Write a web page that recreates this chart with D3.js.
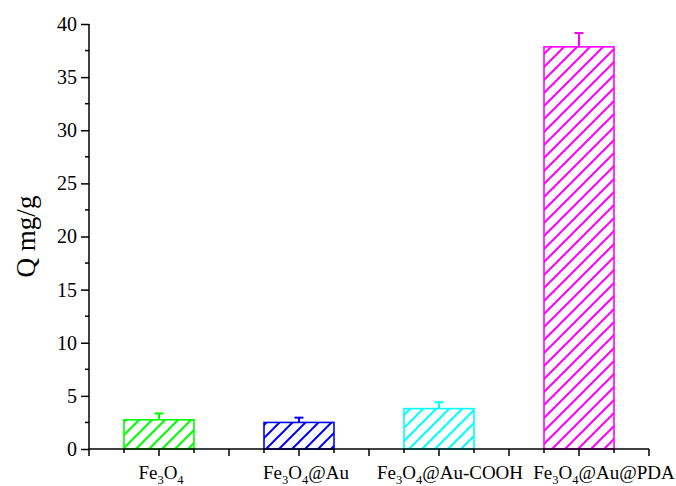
<!DOCTYPE html>
<html>
<head>
<meta charset="utf-8">
<script src="https://cdn.jsdelivr.net/npm/d3@7/dist/d3.min.js"></script>
<style>
  html, body { margin: 0; padding: 0; background: #fff; }
  svg { display: block; font-family: "Liberation Serif", "Times New Roman", serif; }
</style>
</head>
<body>
<svg id="chart" width="676" height="486"></svg>
<script>
// Adsorption capacity per material
const categories = ["Fe3O4", "Fe3O4@Au", "Fe3O4@Au-COOH", "Fe3O4@Au@PDA"];
const values = [2.75, 2.5, 3.8, 37.85];
const errors = [0.6, 0.45, 0.6, 1.3];
const colors = ["#00ff00", "#0000ff", "#00ffff", "#ff00ff"];
// Category labels split into normal / subscript runs
const labelParts = [
  [["Fe", 0], ["3", 1], ["O", 0], ["4", 1]],
  [["Fe", 0], ["3", 1], ["O", 0], ["4", 1], ["@Au", 0]],
  [["Fe", 0], ["3", 1], ["O", 0], ["4", 1], ["@Au-COOH", 0]],
  [["Fe", 0], ["3", 1], ["O", 0], ["4", 1], ["@Au@PDA", 0]]
];
const yTicks = [0, 5, 10, 15, 20, 25, 30, 35, 40];
const yLabel = "Q mg/g";

const svg = d3.select("#chart");
const mLeft = 89, mRight = 649, mTop = 24, mBottom = 449;

const x = d3.scaleBand().domain(categories).range([mLeft, mRight])
  .paddingInner(0.5).paddingOuter(0.25);
const y = d3.scaleLinear().domain([0, 40]).range([mBottom, mTop]);

// Diagonal hatch patterns, one per colour
const defs = svg.append("defs");
const P = 13;
colors.forEach((c, i) => {
  const p = defs.append("pattern")
    .attr("id", "hatch" + i)
    .attr("patternUnits", "userSpaceOnUse")
    .attr("width", P).attr("height", P);
  p.append("rect").attr("width", P).attr("height", P).attr("fill", "#fff");
  p.append("path")
    .attr("d", `M0,${P} L${P},0 M${-P/2},${P/2} L${P/2},${-P/2} M${P/2},${P*1.5} L${P*1.5},${P/2}`)
    .attr("stroke", c).attr("stroke-width", 2);
});

// Bars
const g = svg.append("g");
categories.forEach((cat, i) => {
  const x0 = x(cat), bw = x.bandwidth();
  g.append("rect")
    .attr("x", x0).attr("y", y(values[i]))
    .attr("width", bw).attr("height", y(0) - y(values[i]))
    .attr("fill", `url(#hatch${i})`)
    .attr("stroke", colors[i]).attr("stroke-width", 1.6);
  // upper error bar
  const cx = x0 + bw / 2;
  g.append("line")
    .attr("x1", cx).attr("x2", cx)
    .attr("y1", y(values[i])).attr("y2", y(values[i] + errors[i]))
    .attr("stroke", colors[i]).attr("stroke-width", 2);
  g.append("line")
    .attr("x1", cx - 4.5).attr("x2", cx + 4.5)
    .attr("y1", y(values[i] + errors[i])).attr("y2", y(values[i] + errors[i]))
    .attr("stroke", colors[i]).attr("stroke-width", 2);
});

// Y axis
const yAxis = svg.append("g").attr("transform", `translate(${mLeft},0)`)
  .call(d3.axisLeft(y).tickValues(yTicks).tickSize(8).tickPadding(4).tickFormat(d3.format("d")));
yAxis.select(".domain").attr("stroke-width", 1.5).attr("d", `M0,${mTop}V${mBottom}`);
yAxis.selectAll(".tick line").attr("stroke-width", 1.5);
yAxis.selectAll(".tick text").attr("font-size", 20).attr("fill", "#000")
  .attr("font-family", "Liberation Serif, serif");
const yMinor = d3.range(2.5, 40, 5);
svg.append("g").selectAll("line").data(yMinor).join("line")
  .attr("x1", mLeft - 4).attr("x2", mLeft)
  .attr("y1", d => y(d)).attr("y2", d => y(d))
  .attr("stroke", "#000").attr("stroke-width", 1.5);

// X axis line
svg.append("line")
  .attr("x1", mLeft).attr("x2", mRight).attr("y1", mBottom).attr("y2", mBottom)
  .attr("stroke", "#000").attr("stroke-width", 1.5);
// X ticks: major at category centres and boundaries, minor at bar edges
const step = x.step();
const xt = d3.range(0, 17).map(k => ({ px: mLeft + k * step / 4, major: k % 2 === 0 }));
svg.append("g").selectAll("line").data(xt).join("line")
  .attr("x1", d => d.px).attr("x2", d => d.px)
  .attr("y1", mBottom).attr("y2", d => mBottom + (d.major ? 7 : 4))
  .attr("stroke", "#000").attr("stroke-width", 1.5);

// X labels with subscripts
const labelShift = [2, 7, 11, 25];
categories.forEach((cat, i) => {
  const t = svg.append("text")
    .attr("x", x(cat) + x.bandwidth() / 2 + labelShift[i])
    .attr("y", 479)
    .attr("text-anchor", "middle")
    .attr("font-size", 19).attr("fill", "#000");
  labelParts[i].forEach(([s, sub], j) => {
    const prevSub = j > 0 && labelParts[i][j - 1][1];
    const ts = t.append("tspan").text(s);
    if (sub) ts.attr("font-size", 12.5).attr("dy", prevSub ? 0 : 5);
    else if (prevSub) ts.attr("dy", -5);
  });
});

// Y axis title
svg.append("text")
  .attr("transform", `translate(35,${(mTop + mBottom) / 2}) rotate(-90)`)
  .attr("text-anchor", "middle")
  .attr("font-size", 27).attr("fill", "#000")
  .text(yLabel);
</script>
</body>
</html>
